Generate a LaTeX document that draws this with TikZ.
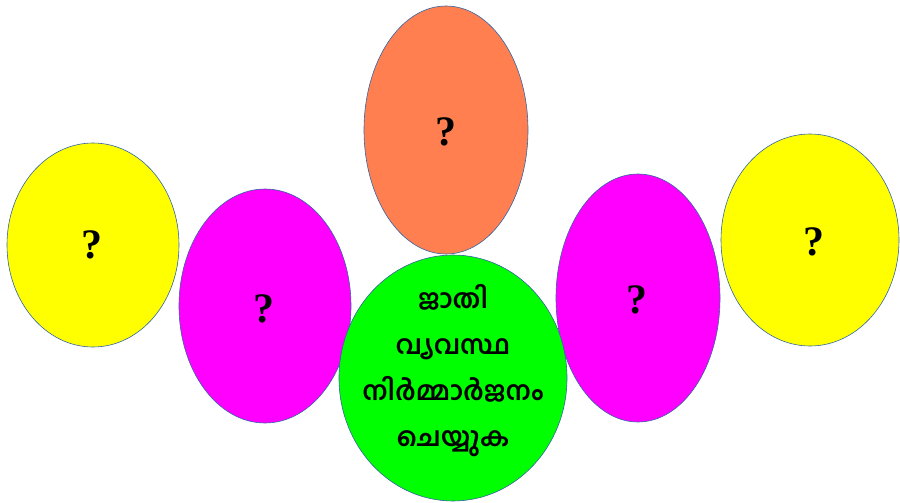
\documentclass[tikz,border=0pt]{standalone}
\usepackage{fontspec}
\setmainfont{Liberation Serif}
\newfontfamily\mlfont[Script=Malayalam]{Hind Kochi}
\definecolor{edgeblue}{HTML}{3465A4}
\definecolor{coralc}{HTML}{FF7F50}
\definecolor{yel}{HTML}{FFFF00}
\definecolor{mag}{HTML}{FF00FF}
\definecolor{grn}{HTML}{00FF00}
\begin{document}
\begin{tikzpicture}[x=1pt,y=-1pt,
  blob/.style={draw=edgeblue,line width=0.6pt},
  qmark/.style={font=\bfseries\fontsize{42}{42}\selectfont,text=black},
  mltext/.style={font=\mlfont\fontsize{26.5}{46}\selectfont,align=center,text=black}]
\useasboundingbox (0,0) rectangle (900,503);
\filldraw[blob,fill=yel] (93,245) ellipse [x radius=86,y radius=102];
\filldraw[blob,fill=mag] (265,306) ellipse [x radius=86,y radius=117];
\filldraw[blob,fill=coralc] (446,130) ellipse [x radius=82,y radius=124];
\filldraw[blob,fill=mag] (638,298) ellipse [x radius=82,y radius=124];
\filldraw[blob,fill=yel] (810,240) ellipse [x radius=89,y radius=106];
\filldraw[blob,fill=grn] (453,378) ellipse [x radius=114,y radius=123];
\node[qmark] (q1) at (92,245) {?};
\node[qmark] (q2) at (264,309) {?};
\node[qmark] (q3) at (446,132) {?};
\node[qmark] (q4) at (637,300) {?};
\node[qmark] (q5) at (814,242) {?};
\node[mltext] (c) at (453,371) {\bfseries ജാതി\\\bfseries വ്യവസ്ഥ\\\bfseries നിർമ്മാർജനം\\\bfseries ചെയ്യുക};
\end{tikzpicture}
\end{document}
